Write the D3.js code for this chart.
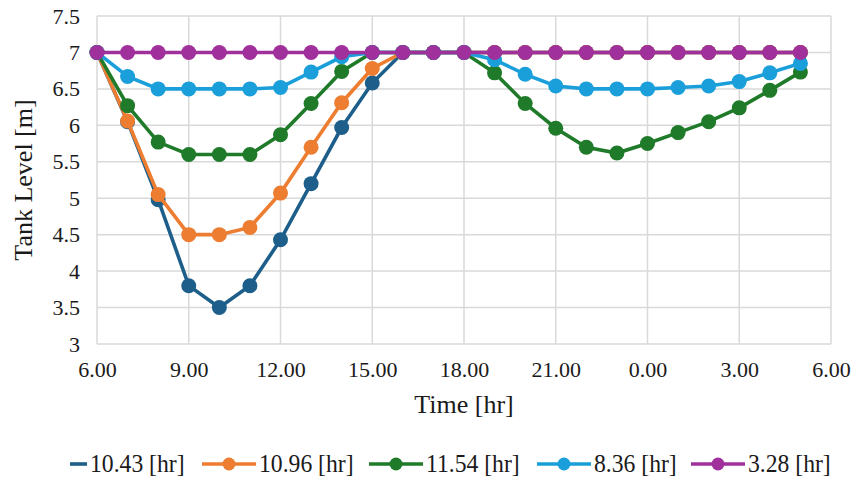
<!DOCTYPE html>
<html>
<head>
<meta charset="utf-8">
<script src="https://cdn.jsdelivr.net/npm/d3@7"></script>
<style>
  body { margin: 0; background: #fff; }
  text { font-family: "Liberation Serif", "Times New Roman", serif; fill: #1a1a1a; }
</style>
</head>
<body>
<div id="chart"></div>
<script>
// hours since 6.00 of day one (29 = 5.00 next day)
const hours = [6, 7, 8, 9, 10, 11, 12, 13, 14, 15, 16, 17, 18, 19, 20, 21, 22, 23, 24, 25, 26, 27, 28, 29];
const xTicks = [6, 9, 12, 15, 18, 21, 24, 27, 30];
const yTicks = [3, 3.5, 4, 4.5, 5, 5.5, 6, 6.5, 7, 7.5];

const s1043 = [7, 6.05, 4.98, 3.8, 3.5, 3.8, 4.43, 5.2, 5.97, 6.58, 7, 7, 7, 7, 7, 7, 7, 7, 7, 7, 7, 7, 7, 7];
const s1096 = [7, 6.06, 5.05, 4.5, 4.5, 4.6, 5.07, 5.7, 6.31, 6.78, 7, 7, 7, 7, 7, 7, 7, 7, 7, 7, 7, 7, 7, 7];
const s1154 = [7, 6.27, 5.77, 5.6, 5.6, 5.6, 5.87, 6.3, 6.74, 7, 7, 7, 7, 6.72, 6.3, 5.96, 5.7, 5.62, 5.75, 5.9, 6.05, 6.24, 6.48, 6.73];
const s836 = [7, 6.67, 6.5, 6.5, 6.5, 6.5, 6.52, 6.73, 6.94, 7, 7, 7, 7, 6.9, 6.7, 6.54, 6.5, 6.5, 6.5, 6.52, 6.54, 6.6, 6.72, 6.85];
const s328 = [7, 7, 7, 7, 7, 7, 7, 7, 7, 7, 7, 7, 7, 7, 7, 7, 7, 7, 7, 7, 7, 7, 7, 7];

const series = [
  { name: "10.43 [hr]", values: s1043, color: "#1d5f8a", marker: false },
  { name: "10.96 [hr]", values: s1096, color: "#ed7d31", marker: true },
  { name: "11.54 [hr]", values: s1154, color: "#1f7a2a", marker: true },
  { name: "8.36 [hr]",  values: s836,  color: "#1a9fdb", marker: true },
  { name: "3.28 [hr]",  values: s328,  color: "#a0309b", marker: true }
];

const width = 854, height = 481;
const margin = { left: 97, right: 23, top: 16, bottom: 137 };

const svg = d3.select("#chart").append("svg")
    .attr("width", width)
    .attr("height", height);

const x = d3.scaleLinear().domain([6, 30]).range([margin.left, width - margin.right]);
const y = d3.scaleLinear().domain([3, 7.5]).range([height - margin.bottom, margin.top]);

// grid
svg.append("g").selectAll("line")
  .data(yTicks)
  .enter().append("line")
  .attr("x1", x(6)).attr("x2", x(30))
  .attr("y1", d => y(d)).attr("y2", d => y(d))
  .attr("stroke", "#d9d9d9").attr("stroke-width", 1.5);

svg.append("g").selectAll("line")
  .data(xTicks)
  .enter().append("line")
  .attr("x1", d => x(d)).attr("x2", d => x(d))
  .attr("y1", y(3)).attr("y2", y(7.5))
  .attr("stroke", "#d9d9d9").attr("stroke-width", 1.5);

// axes
const xAxis = d3.axisBottom(x).tickValues(xTicks)
  .tickFormat(d => (d % 24) + ".00").tickSize(0).tickPadding(17);
svg.append("g")
  .attr("transform", `translate(0,${y(3)})`)
  .call(xAxis)
  .call(g => g.select(".domain").remove())
  .selectAll("text")
  .style("font-size", "22px")
  .style("font-family", "Liberation Serif, serif")
  .attr("fill", "#1a1a1a");

const yAxis = d3.axisLeft(y).tickValues(yTicks)
  .tickFormat(d => d3.format("")(d)).tickSize(0).tickPadding(17);
svg.append("g")
  .attr("transform", `translate(${x(6)},0)`)
  .call(yAxis)
  .call(g => g.select(".domain").remove())
  .selectAll("text")
  .style("font-size", "22px")
  .style("font-family", "Liberation Serif, serif")
  .attr("fill", "#1a1a1a");

svg.append("text")
  .attr("x", (x(6) + x(30)) / 2)
  .attr("y", 413)
  .attr("text-anchor", "middle")
  .style("font-size", "26px")
  .text("Time [hr]");

svg.append("text")
  .attr("transform", `translate(32,${(y(3) + y(7.5)) / 2}) rotate(-90)`)
  .attr("text-anchor", "middle")
  .style("font-size", "26px")
  .text("Tank Level [m]");

// lines and markers
const line = d3.line()
  .x((d, i) => x(hours[i]))
  .y(d => y(d));

series.forEach(s => {
  const g = svg.append("g");
  g.append("path")
    .datum(s.values)
    .attr("fill", "none")
    .attr("stroke", s.color)
    .attr("stroke-width", 3.6)
    .attr("d", line);
  g.selectAll("circle")
    .data(s.values)
    .enter().append("circle")
    .attr("cx", (d, i) => x(hours[i]))
    .attr("cy", d => y(d))
    .attr("r", 7.5)
    .attr("fill", s.color);
});

// legend
const legendX = [70, 202, 369, 537, 691];
const legend = svg.append("g");
series.forEach((s, i) => {
  const g = legend.append("g").attr("transform", `translate(${legendX[i]},464)`);
  const lw = s.marker ? 54 : 17;
  g.append("line")
    .attr("x1", 0).attr("x2", lw)
    .attr("stroke", s.color).attr("stroke-width", 3.6);
  if (s.marker) {
    g.append("circle").attr("cx", lw / 2).attr("r", 6.5).attr("fill", s.color);
  }
  g.append("text")
    .attr("transform", `translate(${lw + 3},8) scale(0.91,1)`)
    .style("font-size", "26px")
    .text(s.name);
});
</script>
</body>
</html>
